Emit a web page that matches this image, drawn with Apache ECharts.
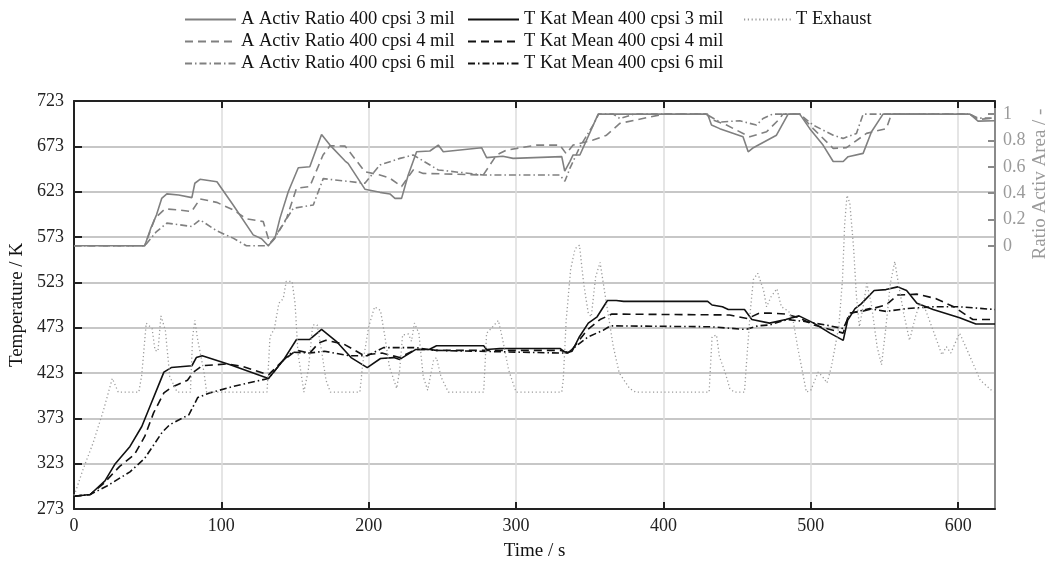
<!DOCTYPE html>
<html>
<head>
<meta charset="utf-8">
<script src="https://cdn.jsdelivr.net/npm/echarts@6/dist/echarts.min.js"></script>
<style>
html,body{margin:0;padding:0;background:#fff;}
#chart{width:1051px;height:561px;}
</style>
</head>
<body>
<div id="chart"></div>
<script>
// ---- data: [time s, value] ----
const seriesNames = [
  'A Activ Ratio 400 cpsi 3 mil', 'A Activ Ratio 400 cpsi 4 mil', 'A Activ Ratio 400 cpsi 6 mil',
  'T Kat Mean 400 cpsi 3 mil', 'T Kat Mean 400 cpsi 4 mil', 'T Kat Mean 400 cpsi 6 mil',
  'T Exhaust'
];
const ratioTicks = [0, 0.2, 0.4, 0.6, 0.8, 1];

const ratio3 = [[0,0],[48,0],[52,0.13],[56,0.235],[59.5,0.36],[63,0.394],[71,0.386],[80,0.366],[82,0.475],[85.5,0.505],[97,0.487],[108,0.31],[121.6,0.083],[127.3,0.053],[131.8,0],[136.4,0.058],[139.8,0.21],[145.4,0.41],[152.2,0.593],[160,0.6],[168,0.846],[173.7,0.765],[184,0.644],[186,0.626],[197.4,0.43],[207.6,0.406],[214.4,0.394],[217.8,0.36],[222.3,0.36],[226.8,0.538],[232.5,0.714],[241.5,0.72],[247.2,0.765],[250.6,0.714],[276.6,0.745],[280,0.67],[291,0.68],[298,0.664],[331,0.677],[333,0.568],[336.5,0.64],[338.7,0.69],[343.3,0.69],[355.7,1],[430,1],[432.6,0.917],[438.2,0.89],[454,0.828],[457.5,0.714],[461,0.745],[476.7,0.84],[484.6,1],[492.5,1],[499.3,0.89],[508.3,0.765],[515.2,0.64],[522,0.64],[525.3,0.677],[535.5,0.702],[541.2,0.866],[549,1],[608,1],[613.5,0.947],[625,0.95]];

const ratio4 = [[0,0],[48,0],[55,0.21],[61.7,0.28],[70.8,0.273],[79.8,0.26],[85.5,0.356],[96.8,0.33],[108,0.273],[117,0.205],[128.4,0.184],[131.8,0.058],[133,0.02],[135,0.04],[144.3,0.21],[151,0.437],[160,0.45],[169,0.69],[173.7,0.76],[184,0.757],[197.4,0.563],[207.6,0.538],[214.4,0.513],[222.3,0.45],[230.2,0.576],[237,0.55],[277.7,0.538],[286.8,0.69],[293.5,0.727],[314,0.765],[329.7,0.765],[334,0.70],[338.7,0.765],[352.3,0.803],[361.4,0.84],[370.4,0.93],[400,1],[429,1],[434,0.955],[442.8,0.917],[458.6,0.828],[470,0.866],[479,0.967],[481,1],[492.5,1],[501.6,0.89],[515.2,0.74],[524.2,0.745],[537.8,0.854],[551.3,0.89],[554.7,1],[608,1],[613.5,0.96],[625,0.97]];

const ratio6 = [[0,0],[48,0],[56,0.108],[63,0.172],[71.5,0.16],[79.8,0.146],[85.5,0.197],[96.8,0.114],[108,0.058],[117,0],[131.8,0],[137.5,0.083],[148.8,0.285],[162.4,0.31],[169.1,0.51],[197.4,0.475],[207.6,0.614],[221.2,0.664],[230.2,0.69],[247.2,0.576],[277.7,0.538],[329.7,0.538],[333.1,0.49],[336.5,0.588],[343.3,0.752],[352.3,0.917],[356,1],[366,1],[370.4,0.967],[380,1],[429,1],[438.2,0.94],[451.8,0.95],[463.1,0.917],[467.6,0.967],[474,1],[492.5,1],[501.6,0.917],[515.2,0.84],[521.9,0.816],[531,0.854],[535.5,1],[608,1],[613.5,0.97],[625,0.97]];

const kat3 = [[0,287],[11,289],[21,304],[28,323],[38,342],[46,364],[52,388],[57,408],[61,424],[66,429],[80,431],[83,440],[87,442],[106,432],[132,417],[142,437],[151,460],[160,460],[168,471],[178,458],[188,440],[199,429],[208,439],[217,440],[221,438],[232,449],[241,449],[246,453],[278,453],[280,449],[289,450],[330,450],[334,445],[338,447],[343,463],[349,478],[355,485],[362,503],[368,503],[373,502],[430,502],[433,498],[440,496],[444,493],[455,493],[460,482],[472,478],[483,482],[492,486],[502,478],[513,467],[522,459],[525,481],[530,494],[534,499],[543,514],[551,515],[559,518],[565,514],[572,500],[583,493],[601,484],[612,477],[625,477]];

const kat4 = [[0,287],[11,289],[20,301],[31,320],[41,333],[48,353],[54,379],[61,401],[66,407],[77,415],[81,424],[87,431],[104,433],[115,430],[132,421],[142,437],[151,448],[160,445],[166,456],[171,459],[183,455],[196,443],[209,445],[221,440],[232,449],[241,449],[246,448],[330,448],[334,446],[338,449],[348,470],[357,482],[365,488],[445,487],[457,483],[465,489],[472,489],[483,488],[492,484],[502,476],[522,467],[526,489],[535,491],[551,498],[559,509],[572,510],[585,505],[597,496],[610,482],[625,482]];

const kat6 = [[0,287],[11,289],[22,298],[38,314],[48,329],[60,358],[65,366],[78,377],[84,396],[92,401],[110,409],[132,417],[142,437],[148,446],[160,445],[170,447],[187,442],[199,442],[210,451],[232,451],[244,448],[330,445],[335,445],[341,453],[349,463],[359,470],[364,475],[432,474],[456,471],[464,475],[472,476],[484,482],[495,480],[510,476],[522,472],[527,489],[540,494],[551,491],[565,494],[583,496],[601,496],[625,493]];

const exhaust = [[0,288],[1,292],[6,316],[13,346],[20,382],[26,417],[30,402],[44,402],[46,421],[49,478],[53,472],[55,448],[57,447],[59,486],[62,470],[65,419],[70,402],[79,402],[80.5,463],[82,481],[84,459],[88,426],[90,402],[131,402],[133,463],[136,472],[139,500],[142,505],[144,524],[148,524],[150,500],[152,445],[156,402],[159,426],[162,476],[165,476],[168,448],[171,415],[174,402],[194,402],[196,434],[200,474],[204,496],[208,492],[211,463],[214,430],[219,406],[221,426],[223,465],[227,466],[229,458],[231,478],[234,467],[237,419],[240,404],[244,437],[246,440],[249,419],[254,402],[278,402],[280,467],[283,472],[288,481],[291,459],[295,426],[300,402],[331,402],[332,415],[334,481],[337,537],[340,560],[343,564],[346,520],[349,489],[351,485],[354,529],[357,545],[361,503],[366,452],[370,423],[377,406],[381,402],[431,402],[433,463],[436,465],[438,441],[442,423],[445,406],[448,402],[455,402],[456,426],[459,492],[461,526],[464,533],[468,514],[470,496],[473,507],[477,516],[480,496],[485,491],[488,481],[491,452],[495,419],[497,402],[500,404],[505,424],[508,419],[511,412],[514,430],[519,474],[521.5,526],[523,588],[524.6,619],[526.5,610],[529,562],[531,507],[533,474],[535.5,496],[538,522],[541,500],[545,452],[548,432],[551,474],[554,522],[557,546],[559,526],[563,489],[567,459],[571,485],[574,500],[578,492],[583,470],[589,443],[592,452],[595,445],[601,467],[607,445],[615,415],[624,402]];

const FONT = 'Liberation Serif';
const GRAY = '#808080';
const DASH = [8, 5];
const DASHDOT = [7, 3, 1.5, 3];
const DOT = [1.2, 2.6];

function mk(name, data, axis, color, width, type) {
  return {
    name: name, type: 'line', data: data, yAxisIndex: axis,
    symbol: 'none', showSymbol: false, animation: false,
    lineStyle: { color: color, width: width, type: type },
    itemStyle: { color: color },
    z: axis === 1 ? 3 : 4
  };
}

const legendBase = {
  orient: 'vertical', top: 10, padding: 0, itemHeight: 12, itemGap: 3,
  itemStyle: { opacity: 0 },
  textStyle: { fontSize: 18.5, color: '#111', fontFamily: FONT }
};

const chart = echarts.init(document.getElementById('chart'), null, { renderer: 'canvas' });
const option = {
  animation: false,
  textStyle: { fontFamily: FONT },
  grid: { left: 74, right: 56, top: 101, bottom: 52, containLabel: false, outerBoundsMode: 'none' },
  legend: [
    Object.assign({}, legendBase, { data: seriesNames.slice(0, 3), left: 184, itemWidth: 51 }),
    Object.assign({}, legendBase, { data: seriesNames.slice(3, 6), left: 467, itemWidth: 51 }),
    Object.assign({}, legendBase, { data: seriesNames.slice(6), left: 743, itemWidth: 47 })
  ],
  xAxis: [
    { type: 'value', min: 0, max: 625, interval: 100, position: 'bottom',
      name: 'Time / s', nameLocation: 'middle', nameGap: 33,
      nameTextStyle: { fontSize: 19, color: '#111', fontFamily: FONT },
      axisLine: { onZero: false, lineStyle: { color: '#222', width: 2 } },
      axisTick: { inside: true, length: 7, lineStyle: { color: '#222', width: 2 } },
      axisLabel: { fontSize: 18, color: '#222', margin: 8, showMaxLabel: false, fontFamily: FONT },
      splitLine: { show: true, lineStyle: { color: '#dcdcdc', width: 1.5 } } },
    { type: 'value', min: 0, max: 625, interval: 100, position: 'top',
      axisLine: { onZero: false, lineStyle: { color: '#222', width: 2 } },
      axisTick: { inside: true, length: 7, lineStyle: { color: '#222', width: 2 } },
      axisLabel: { show: false }, splitLine: { show: false } }
  ],
  yAxis: [
    { type: 'value', min: 273, max: 723, interval: 50, position: 'left',
      name: 'Temperature / K', nameLocation: 'middle', nameGap: 40,
      nameTextStyle: { fontSize: 19, color: '#111', fontFamily: FONT },
      axisLine: { onZero: false, lineStyle: { color: '#222', width: 2 } },
      axisTick: { inside: true, length: 8, lineStyle: { color: '#222', width: 2 } },
      axisLabel: { fontSize: 18, color: '#222', margin: 10, fontFamily: FONT },
      splitLine: { show: true, lineStyle: { color: '#b4b4b4', width: 1.5 } } },
    { type: 'value', min: -2, max: 1.1, position: 'right',
      axisLine: { onZero: false, lineStyle: { color: '#8a8a8a', width: 2 } },
      axisTick: { inside: true, length: 7, customValues: ratioTicks, lineStyle: { color: '#8a8a8a', width: 2 } },
      axisLabel: { fontSize: 18, color: '#9a9a9a', margin: 8, customValues: ratioTicks, fontFamily: FONT,
        formatter: function (v) { return String(Math.round(v * 10) / 10); } },
      splitLine: { show: false } }
  ],
  graphic: [
    { type: 'text', x: 1040, y: 184, rotation: Math.PI / 2,
      style: { text: 'Ratio Activ Area / -', fill: '#9a9a9a', font: '19px "Liberation Serif"',
        textAlign: 'center', textVerticalAlign: 'middle' } }
  ],
  series: [
    mk(seriesNames[0], ratio3, 1, GRAY, 1.6, 'solid'),
    mk(seriesNames[1], ratio4, 1, GRAY, 1.6, DASH),
    mk(seriesNames[2], ratio6, 1, GRAY, 1.6, DASHDOT),
    mk(seriesNames[3], kat3, 0, '#111', 1.6, 'solid'),
    mk(seriesNames[4], kat4, 0, '#111', 1.6, DASH),
    mk(seriesNames[5], kat6, 0, '#111', 1.6, DASHDOT),
    mk(seriesNames[6], exhaust, 0, '#9a9a9a', 1.3, DOT)
  ]
};
chart.setOption(option);
</script>
</body>
</html>
